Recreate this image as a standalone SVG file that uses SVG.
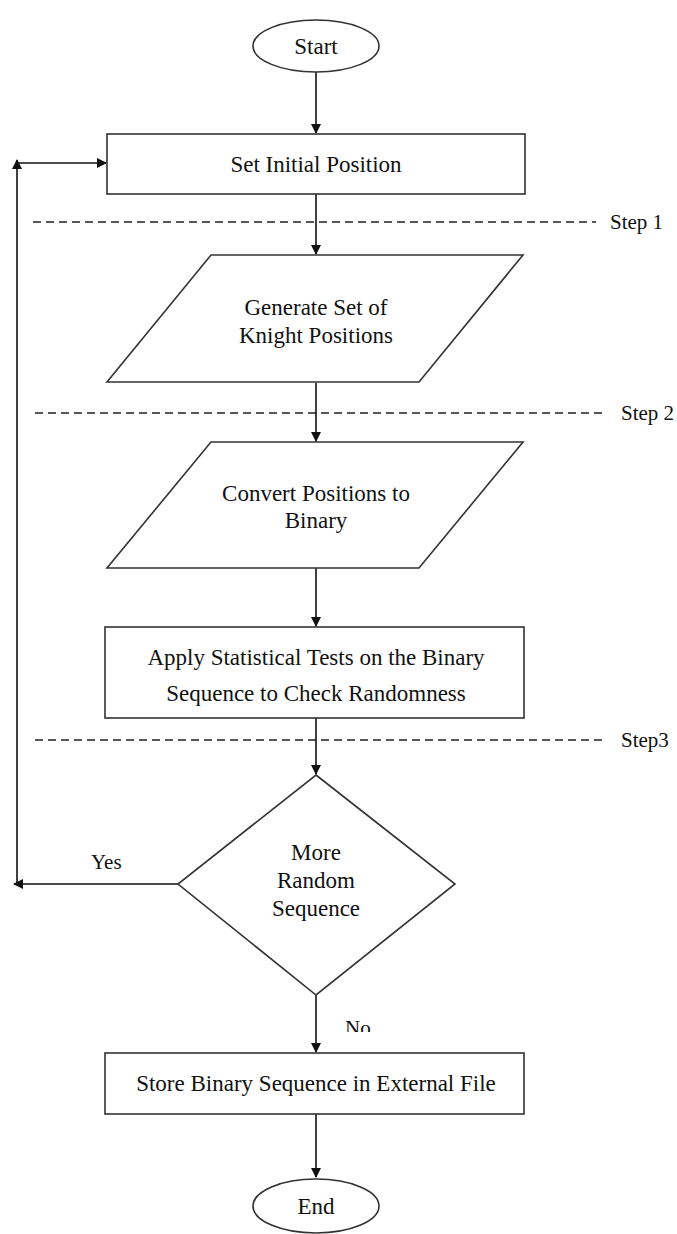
<svg xmlns="http://www.w3.org/2000/svg" width="677" height="1234" viewBox="0 0 677 1234">
<style>
.shape{fill:#fff;stroke:#333;stroke-width:1.6}
.t{font-family:"Liberation Serif","Times New Roman",serif;font-size:23px;fill:#111;text-anchor:middle}
.lbl{font-family:"Liberation Serif","Times New Roman",serif;font-size:21px;fill:#111}
.con{fill:none;stroke:#111;stroke-width:1.6}
.dash{fill:none;stroke:#222;stroke-width:1.4;stroke-dasharray:8 5}
</style>
<defs>
<marker id="ah" markerWidth="10" markerHeight="10" refX="9" refY="5" orient="auto" markerUnits="userSpaceOnUse">
<path d="M0,0 L10,5 L0,10 z" fill="#111"/>
</marker>
<clipPath id="noclip"><rect x="330" y="1000" width="80" height="32"/></clipPath>
</defs>
<rect width="677" height="1234" fill="#fff"/>
<g id="dividers">
<line class="dash" x1="33" y1="222" x2="596" y2="222"/>
<line class="dash" x1="35" y1="413" x2="604" y2="413"/>
<line class="dash" x1="35" y1="740" x2="604" y2="740"/>
<text class="lbl" x="610" y="229">Step 1</text>
<text class="lbl" x="621" y="420">Step 2</text>
<text class="lbl" x="621" y="747">Step3</text>
</g>
<g id="connectors">
<line class="con" x1="316" y1="72" x2="316" y2="133" marker-end="url(#ah)"/>
<line class="con" x1="316" y1="194" x2="316" y2="254" marker-end="url(#ah)"/>
<line class="con" x1="316" y1="383" x2="316" y2="441" marker-end="url(#ah)"/>
<line class="con" x1="316" y1="568" x2="316" y2="626" marker-end="url(#ah)"/>
<line class="con" x1="316" y1="718" x2="316" y2="774" marker-end="url(#ah)"/>
<line class="con" x1="316" y1="995" x2="316" y2="1052" marker-end="url(#ah)"/>
<line class="con" x1="316" y1="1114" x2="316" y2="1177" marker-end="url(#ah)"/>
<line class="con" x1="178" y1="884" x2="14" y2="884" marker-end="url(#ah)"/>
<line class="con" x1="17" y1="884" x2="17" y2="160" marker-end="url(#ah)"/>
<line class="con" x1="17" y1="163" x2="106" y2="163" marker-end="url(#ah)"/>
<text class="lbl" x="91" y="869">Yes</text>
<text class="lbl" x="345" y="1035" clip-path="url(#noclip)">No</text>
</g>
<g id="start">
<ellipse class="shape" cx="316" cy="46" rx="63" ry="26"/>
<text class="t" x="316" y="54">Start</text>
</g>
<g id="set-initial">
<rect class="shape" x="107" y="134" width="418" height="60"/>
<text class="t" x="316" y="172">Set Initial Position</text>
</g>
<g id="generate">
<polygon class="shape" points="211,255 523,255 419,382 107,382"/>
<text class="t" x="316" y="315">Generate Set of</text>
<text class="t" x="316" y="343">Knight Positions</text>
</g>
<g id="convert">
<polygon class="shape" points="211,442 523,442 419,568 107,568"/>
<text class="t" x="316" y="501">Convert Positions to</text>
<text class="t" x="316" y="528">Binary</text>
</g>
<g id="apply">
<rect class="shape" x="105" y="627" width="419" height="91"/>
<text class="t" x="316" y="665">Apply Statistical Tests on the Binary</text>
<text class="t" x="316" y="701">Sequence to Check Randomness</text>
</g>
<g id="decision">
<polygon class="shape" points="316,775 455,884 316,995 178,884"/>
<text class="t" x="316" y="860">More</text>
<text class="t" x="316" y="888">Random</text>
<text class="t" x="316" y="916">Sequence</text>
</g>
<g id="store">
<rect class="shape" x="105" y="1053" width="419" height="61"/>
<text class="t" x="316" y="1091">Store Binary Sequence in External File</text>
</g>
<g id="end">
<ellipse class="shape" cx="316" cy="1206" rx="63" ry="27"/>
<text class="t" x="316" y="1214">End</text>
</g>
</svg>
